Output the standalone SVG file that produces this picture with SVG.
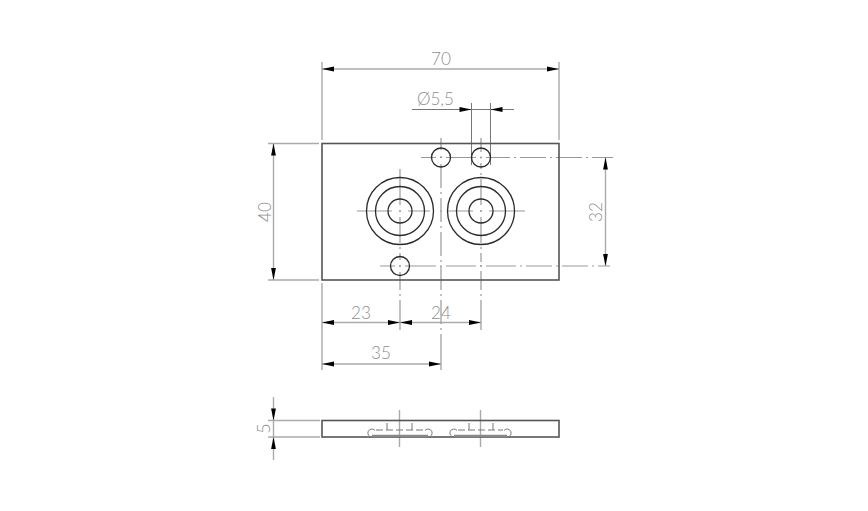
<svg xmlns="http://www.w3.org/2000/svg" width="868" height="511" viewBox="0 0 868 511">
<style>
.o{fill:none;stroke:#2a2a2a;stroke-width:1.3}
.r{fill:none;stroke:#555;stroke-width:1.6}
.d{fill:none;stroke:#aaa;stroke-width:1.4}
.t{fill:none;stroke:#777;stroke-width:1}
.h{fill:none;stroke:#777;stroke-width:1;stroke-dasharray:7 3}
.c{fill:none;stroke:#999;stroke-width:1.2}
.a{fill:#000}
text{font-family:"Lato","Liberation Sans",Arial,sans-serif;font-size:18px;fill:#8f8f8f;font-weight:300}
</style>
<defs>
<path id="ar" d="M0 0L12 -2.400V2.400Z"/>
</defs>
<rect width="868" height="511" fill="#fff"/>
<g id="connectors">
<path class="d" d="M322 62V140M559 62V140M322 69H559M268 143.500H319M268 280H319M273.500 143.500V280M322 283V370M322 322.500H481M322 364H441M273.500 397V460M268 420.500H320M268 437H320M605.500 157.500V266"/>
<path class="t" d="M412 109.500H514M471.500 103V165M490.500 103V165"/>
<g class="a">
<use href="#ar" transform="translate(322 69)"/><use href="#ar" transform="translate(559 69) rotate(180)"/>
<use href="#ar" transform="translate(471.500 109.500) rotate(180)"/><use href="#ar" transform="translate(490.500 109.500)"/>
<use href="#ar" transform="translate(273.500 143.500) rotate(90)"/><use href="#ar" transform="translate(273.500 280) rotate(-90)"/>
<use href="#ar" transform="translate(605.500 157.500) rotate(90)"/><use href="#ar" transform="translate(605.500 266) rotate(-90)"/>
<use href="#ar" transform="translate(322 322.500)"/><use href="#ar" transform="translate(400 322.500) rotate(180)"/>
<use href="#ar" transform="translate(400 322.500)"/><use href="#ar" transform="translate(481 322.500) rotate(180)"/>
<use href="#ar" transform="translate(322 364)"/><use href="#ar" transform="translate(441 364) rotate(180)"/>
<use href="#ar" transform="translate(273.500 420.500) rotate(-90)"/><use href="#ar" transform="translate(273.500 437) rotate(90)"/>
</g>
<path class="c" d="M421 157.500H436M440 157.500H442M446 157.500H476M480 157.500H482M486 157.500H510M514 157.500H516M520 157.500H546M550 157.500H552M556 157.500H582M586 157.500H588M592 157.500H613"/>
<path class="c" d="M380 266H395M399 266H401M405 266H436M440 266H442M446 266H476M480 266H482M486 266H516M520 266H522M526 266H552M556 266H558M562 266H588M592 266H594M598 266H610"/>
<path class="c" d="M357 211H392M399 211H401M408 211H430M440 211H442M448 211H473M480 211H482M489 211H525"/>
<path class="c" d="M441 138V150M441 156V158M441 164V188M441 192V194M441 198V222M441 226V228M441 232V256M441 260V262M441 266V290M441 294V296M441 300V324M441 328V330M441 334V370"/>
<path class="c" d="M400 169V205M400 210V212M400 217V243M400 247V249M400 253V260M400 265V267M400 272V290M400 294V296M400 300V330"/>
<path class="c" d="M481 138V152M481 156.500V158.500M481 163V169M481 173V175M481 179V205M481 210V212M481 217V243M481 247V249M481 253V262M481 265V267M481 271V290M481 294V296M481 300V330"/>
<path class="d" d="M399.500 410V447M480.500 410V447"/>
</g>
<g id="top-view">
<rect class="r" x="322" y="143.500" width="237" height="136.500"/>
<circle class="o" cx="400" cy="211" r="33.500"/><circle class="o" cx="400" cy="211" r="24.500"/><circle class="o" cx="400" cy="211" r="12"/>
<circle class="o" cx="481" cy="211" r="33.500"/><circle class="o" cx="481" cy="211" r="24.500"/><circle class="o" cx="481" cy="211" r="12"/>
<circle class="o" cx="441" cy="157.500" r="9.500"/><circle class="o" cx="481" cy="157.500" r="9.500"/><circle class="o" cx="400" cy="266" r="9.500"/>
</g>
<g id="side-view">
<rect class="r" x="322" y="420.500" width="237" height="16.500"/>
<path class="h" d="M376 430H424M458 430H503"/>
<path class="t" d="M375 430.500A4 4 0 1 0 372 437M425 430.500A4 4 0 1 1 428 437M457 430.500A4 4 0 1 0 454 437M504 430.500A4 4 0 1 1 507 437M387 423V430M412 423V430M469 423V430M493 423V430"/>
<path d="M372 436H428M454 436H507" fill="none" stroke="#888" stroke-width="2.500"/>
</g>
<g id="labels">
<text x="441" y="65" text-anchor="middle" textLength="20" lengthAdjust="spacingAndGlyphs">70</text>
<text x="417" y="105" textLength="37" lengthAdjust="spacingAndGlyphs">Ø5,5</text>
<text transform="translate(270.500 212) rotate(-90)" text-anchor="middle" textLength="20" lengthAdjust="spacingAndGlyphs">40</text>
<text transform="translate(602 212) rotate(-90)" text-anchor="middle" textLength="20" lengthAdjust="spacingAndGlyphs">32</text>
<text x="361" y="319" text-anchor="middle" textLength="20" lengthAdjust="spacingAndGlyphs">23</text>
<text x="441" y="319" text-anchor="middle" textLength="20" lengthAdjust="spacingAndGlyphs">24</text>
<text x="381" y="359" text-anchor="middle" textLength="20" lengthAdjust="spacingAndGlyphs">35</text>
<text transform="translate(270 428.500) rotate(-90)" text-anchor="middle">5</text>
</g>
</svg>
